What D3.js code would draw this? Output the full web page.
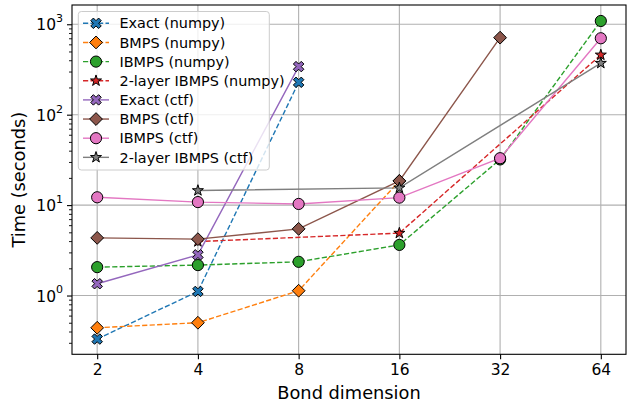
<!DOCTYPE html>
<html><head><meta charset="utf-8">
<script src="https://cdn.jsdelivr.net/npm/d3@7"></script>
<style>
body{margin:0;background:#fff;}
text{font-family:"DejaVu Sans",sans-serif;}
</style></head><body>
<svg id="chart" width="636" height="410"></svg>
<script>
// ---- data ----
const bondDims = [2, 4, 8, 16, 32, 64];
const xTickLabels = ["2", "4", "8", "16", "32", "64"];
const yTickValues = [1, 10, 100, 1000];
const yTickExponents = ["0", "1", "2", "3"];

const exactNumpy    = [0.33, 1.11, 228, null, null, null];
const bmpsNumpy     = [0.44, 0.50, 1.13, 18.5, null, null];
const ibmpsNumpy    = [2.06, 2.17, 2.36, 3.63, 32, 1087];
const twoLayerNumpy = [null, 3.95, null, 4.9, null, 458];
const exactCtf      = [1.35, 2.82, 340, null, null, null];
const bmpsCtf       = [4.34, 4.20, 5.46, 18.5, 711, null];
const ibmpsCtf      = [12.2, 10.8, 10.3, 12.1, 33, 700];
const twoLayerCtf   = [null, 14.5, null, 15.5, null, 371];

const seriesNames = ["Exact (numpy)", "BMPS (numpy)", "IBMPS (numpy)", "2-layer IBMPS (numpy)",
                     "Exact (ctf)", "BMPS (ctf)", "IBMPS (ctf)", "2-layer IBMPS (ctf)"];
const seriesValues = [exactNumpy, bmpsNumpy, ibmpsNumpy, twoLayerNumpy, exactCtf, bmpsCtf, ibmpsCtf, twoLayerCtf];
const seriesColors = ["#1f77b4", "#ff7f0e", "#2ca02c", "#d62728", "#9467bd", "#8c564b", "#e377c2", "#7f7f7f"];
const seriesMarkers = ["X", "D", "o", "*", "X", "D", "o", "*"];
const seriesDashed = [true, true, true, true, false, false, false, false];

// ---- layout ----
const L = 72, R = 626, T = 5, B = 354.3;
const svg = d3.select("#chart");

const x = d3.scaleLog().base(2).domain([Math.pow(2, 0.75), Math.pow(2, 6.25)]).range([L, R]);
const y = d3.scaleLog().base(10).domain([Math.pow(10, -0.65), Math.pow(10, 3.213)]).range([B, T]);

// grid
const grid = svg.append("g");
bondDims.forEach(d => grid.append("line").attr("x1", x(d)).attr("x2", x(d)).attr("y1", T).attr("y2", B)
  .attr("stroke", "#b0b0b0").attr("stroke-width", 1.1));
yTickValues.forEach(d => grid.append("line").attr("x1", L).attr("x2", R).attr("y1", y(d)).attr("y2", y(d))
  .attr("stroke", "#b0b0b0").attr("stroke-width", 1.1));

// axes
const xAxis = d3.axisBottom(x).tickValues(bondDims).tickFormat((d, i) => xTickLabels[i])
  .tickSizeInner(5).tickSizeOuter(0).tickPadding(5);
const gx = svg.append("g").attr("transform", `translate(0,${B})`).call(xAxis);
gx.select(".domain").remove();
gx.selectAll("line").attr("stroke", "#000").attr("stroke-width", 1.1);
gx.selectAll("text").attr("font-size", 15.5).attr("fill", "#000").attr("font-family", "DejaVu Sans");

// minor ticks y
const minorVals = [];
for (let e = -1; e <= 3; e++) for (let m = 2; m <= 9; m++) {
  const v = m * Math.pow(10, e);
  if (v >= y.domain()[0] && v <= y.domain()[1]) minorVals.push(v);
}
const yMinor = d3.axisLeft(y).tickValues(minorVals).tickFormat("").tickSizeInner(3).tickSizeOuter(0);
const gym = svg.append("g").attr("transform", `translate(${L},0)`).call(yMinor);
gym.select(".domain").remove();
gym.selectAll("line").attr("stroke", "#000").attr("stroke-width", 0.9);

const yAxis = d3.axisLeft(y).tickValues(yTickValues).tickFormat("").tickSizeInner(5).tickSizeOuter(0);
const gy = svg.append("g").attr("transform", `translate(${L},0)`).call(yAxis);
gy.select(".domain").remove();
gy.selectAll("line").attr("stroke", "#000").attr("stroke-width", 1.1);
gy.selectAll(".tick").each(function(d, i) {
  const t = d3.select(this).append("text").attr("x", -9).attr("y", 0).attr("dy", "0.36em")
    .attr("text-anchor", "end").attr("font-size", 15.5).attr("fill", "#000");
  t.append("tspan").text("10");
  t.append("tspan").attr("font-size", 11).attr("dy", "-0.75em").text(yTickExponents[i]);
});

// markers
function drawMarker(g, type, cx, cy, color) {
  let el;
  if (type === "o") {
    el = g.append("circle").attr("cx", cx).attr("cy", cy).attr("r", 5.6);
  } else if (type === "D") {
    const h = 6.4;
    el = g.append("path").attr("d", `M${cx},${cy - h}L${cx + h},${cy}L${cx},${cy + h}L${cx - h},${cy}Z`);
  } else if (type === "X") {
    const s = 10.5;
    const pts = [[-0.25,-0.5],[0,-0.25],[0.25,-0.5],[0.5,-0.25],[0.25,0],[0.5,0.25],[0.25,0.5],[0,0.25],[-0.25,0.5],[-0.5,0.25],[-0.25,0],[-0.5,-0.25]];
    el = g.append("path").attr("d", "M" + pts.map(p => [cx + p[0] * s, cy + p[1] * s].join(",")).join("L") + "Z");
  } else {
    const Ro = 5.8, Ri = Ro * 0.381966;
    const pts = [];
    for (let k = 0; k < 10; k++) {
      const r = k % 2 === 0 ? Ro : Ri;
      const a = -Math.PI / 2 + k * Math.PI / 5;
      pts.push([cx + r * Math.cos(a), cy + r * Math.sin(a)]);
    }
    el = g.append("path").attr("d", "M" + pts.map(p => p.join(",")).join("L") + "Z");
  }
  el.attr("fill", color).attr("stroke", "#000").attr("stroke-width", 1).attr("stroke-linejoin", "miter");
}

// series
const plot = svg.append("g");
const line = d3.line().defined(d => d.v != null).x(d => x(d.b)).y(d => y(d.v));
seriesValues.forEach((vals, i) => {
  const pts = bondDims.map((b, j) => ({b: b, v: vals[j]})).filter(d => d.v != null);
  const g = plot.append("g");
  g.append("path").datum(pts).attr("d", line).attr("fill", "none")
    .attr("stroke", seriesColors[i]).attr("stroke-width", 1.4)
    .attr("stroke-dasharray", seriesDashed[i] ? "5.2,2.3" : null);
  pts.forEach(d => drawMarker(g, seriesMarkers[i], x(d.b), y(d.v), seriesColors[i]));
});

// spines
svg.append("rect").attr("x", L).attr("y", T).attr("width", R - L).attr("height", B - T)
  .attr("fill", "none").attr("stroke", "#000").attr("stroke-width", 1.1);

// legend
const lg = svg.append("g");
lg.append("rect").attr("x", 78.3).attr("y", 11.5).attr("width", 191).attr("height", 158.5)
  .attr("rx", 3).attr("fill", "#fff").attr("fill-opacity", 0.8).attr("stroke", "#cccccc").attr("stroke-width", 1);
seriesNames.forEach((name, i) => {
  const cy = 23.3 + i * 19.15;
  lg.append("line").attr("x1", 83).attr("x2", 109).attr("y1", cy).attr("y2", cy)
    .attr("stroke", seriesColors[i]).attr("stroke-width", 1.4)
    .attr("stroke-dasharray", seriesDashed[i] ? "5.2,2.3" : null);
  drawMarker(lg, seriesMarkers[i], 96, cy, seriesColors[i]);
  lg.append("text").attr("x", 119.5).attr("y", cy).attr("dy", "0.36em").attr("font-size", 14.4)
    .attr("fill", "#000").text(name);
});

// axis labels
svg.append("text").attr("x", (L + R) / 2).attr("y", 399).attr("text-anchor", "middle")
  .attr("font-size", 17.8).attr("fill", "#000").text("Bond dimension");
svg.append("text").attr("transform", `translate(25,${(T + B) / 2}) rotate(-90)`).attr("text-anchor", "middle")
  .attr("font-size", 17.8).attr("fill", "#000").text("Time (seconds)");
</script>
</body></html>
